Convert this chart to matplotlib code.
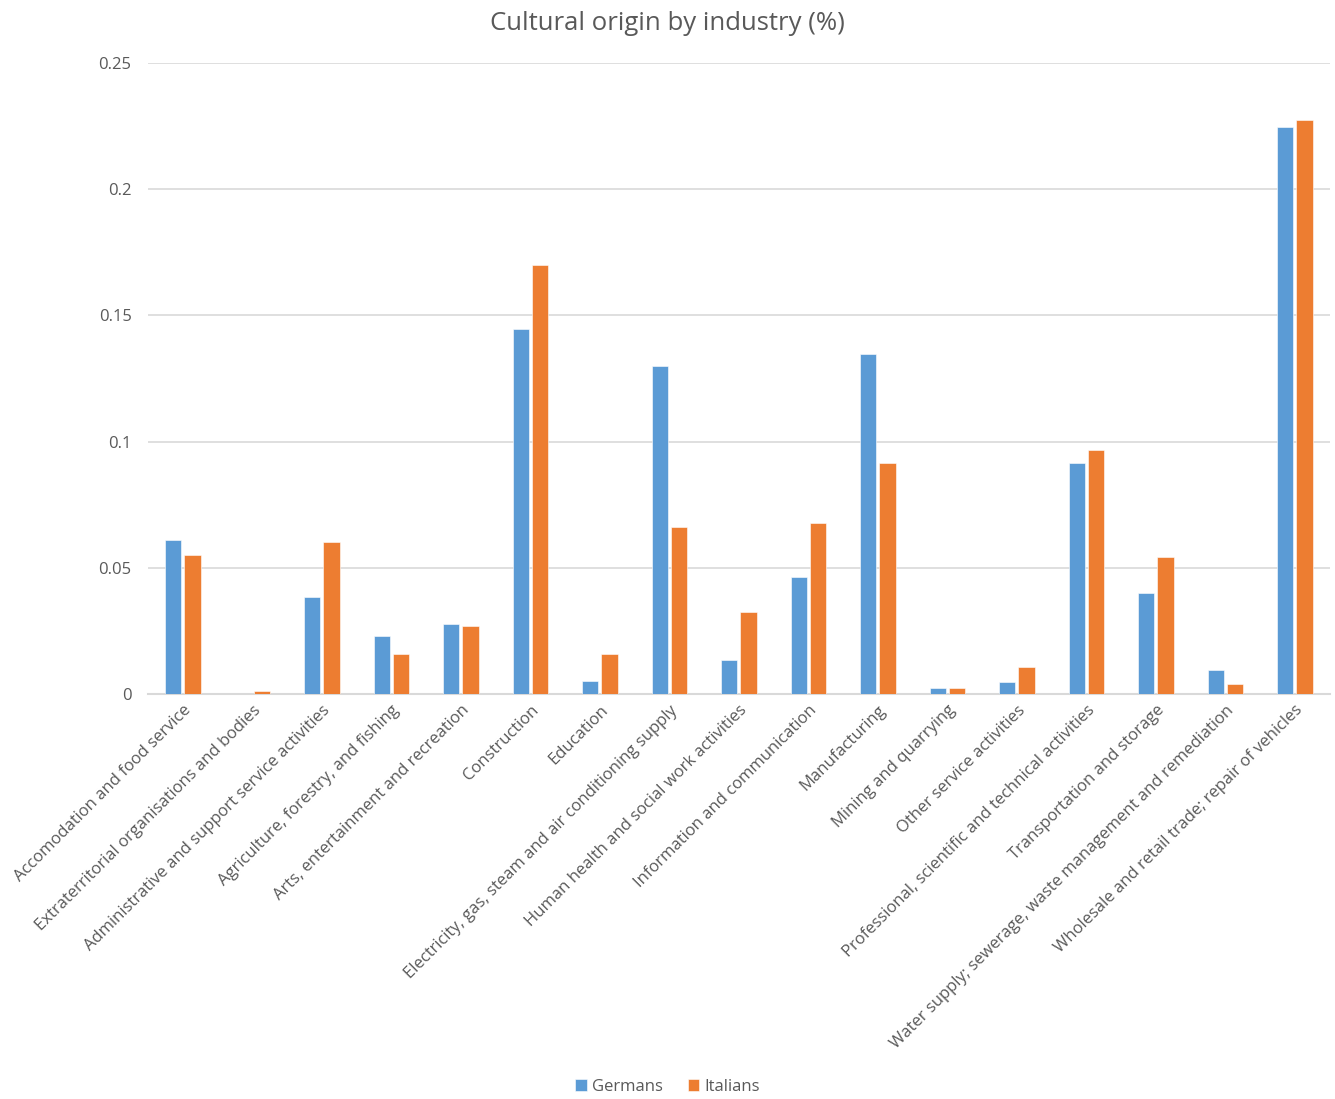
import matplotlib
matplotlib.use("Agg")
import matplotlib.pyplot as plt
import numpy as np

industries = [
    "Accomodation and food service",
    "Extraterritorial organisations and bodies",
    "Administrative and support service activities",
    "Agriculture, forestry, and fishing",
    "Arts, entertainment and recreation",
    "Construction",
    "Education",
    "Electricity, gas, steam and air conditioning supply",
    "Human health and social work activities",
    "Information and communication",
    "Manufacturing",
    "Mining and quarrying",
    "Other service activities",
    "Professional, scientific and technical activities",
    "Transportation and storage",
    "Water supply; sewerage, waste management and remediation",
    "Wholesale and retail trade; repair of vehicles",
]
germans = [0.061, 0.0, 0.0385, 0.023, 0.0278, 0.1448, 0.0052, 0.1298,
           0.0135, 0.0465, 0.1348, 0.0024, 0.0048, 0.0917, 0.0401, 0.0095, 0.2248]
italians = [0.055, 0.001, 0.0603, 0.016, 0.027, 0.1698, 0.016, 0.0663,
            0.0323, 0.0678, 0.0917, 0.0024, 0.0107, 0.0967, 0.0543, 0.0041, 0.2273]
yticks = [0, 0.05, 0.1, 0.15, 0.2, 0.25]
ytick_labels = ["0", "0.05", "0.1", "0.15", "0.2", "0.25"]

BLUE = "#5B9BD5"
ORANGE = "#ED7D31"
TXT = "#595959"
GRID = "#D9D9D9"

plt.rcParams["font.family"] = ["Open Sans", "DejaVu Sans"]

fig = plt.figure(figsize=(13.35, 10.99), dpi=100)
ax = fig.add_axes([0.111, 0.3685, 0.885, 0.5742])

x = np.arange(len(industries))
w = 0.235
off = 0.14
ax.bar(x - off, germans, w, color=BLUE, edgecolor="white", linewidth=0.4,
       label="Germans", zorder=3)
ax.bar(x + off, italians, w, color=ORANGE, edgecolor="white", linewidth=0.4,
       label="Italians", zorder=3)

ax.set_xlim(-0.5, len(industries) - 0.5)
ax.set_ylim(0, 0.25)
ax.set_yticks(yticks)
ax.set_yticklabels(ytick_labels)
ax.yaxis.grid(True, color=GRID, linewidth=1.2, zorder=0)
ax.set_axisbelow(True)
for s in ["top", "right", "left"]:
    ax.spines[s].set_visible(False)
ax.spines["bottom"].set_color(GRID)
ax.spines["bottom"].set_linewidth(1.5)
ax.tick_params(axis="y", length=0, pad=12, labelsize=12, labelcolor=TXT)
ax.tick_params(axis="x", length=0, pad=6, labelsize=12, labelcolor=TXT)
ax.set_xticks(x)
ax.set_xticklabels(industries, rotation=45, ha="right", rotation_mode="anchor")

fig.text(0.5, 0.979, "Cultural origin by industry (%)", ha="center",
         va="center", fontsize=18.5, color=TXT)

fig.legend(loc="center", bbox_to_anchor=(0.5, 0.011), ncol=2, frameon=False,
           fontsize=12, labelcolor=TXT, handlelength=0.7, handleheight=0.7,
           handletextpad=0.3, columnspacing=1.5)

fig.savefig("out.png", dpi=100)
